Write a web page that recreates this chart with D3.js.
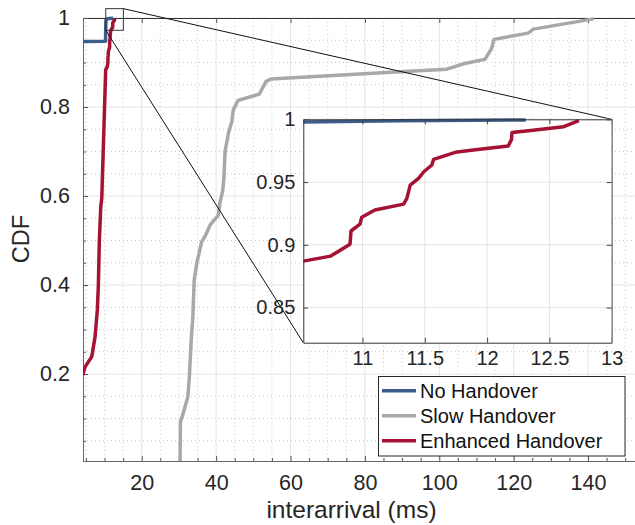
<!DOCTYPE html>
<html>
<head>
<meta charset="utf-8">
<script src="https://cdn.jsdelivr.net/npm/d3@7"></script>
<style>
  body { margin: 0; background: #fff; }
  svg { display: block; font-family: "Liberation Sans", Arial, sans-serif; }
  .tick text { fill: #262626; }
</style>
</head>
<body>
<div id="chart"></div>
<script>
// series: [interarrival ms, CDF]
const noHandover = [[4.1,0.947],[10.25,0.948],[10.33,0.985],[10.4,0.9965],[10.525,0.9979],[11.3,0.9989],[12.31,0.9995]];
const slowHandover = [[30.3,0.002],[30.4,0.093],[31.0,0.108],[32.4,0.149],[32.8,0.194],[33.4,0.291],[33.7,0.321],[33.9,0.366],
  [34.1,0.411],[34.8,0.449],[36.1,0.497],[37.0,0.509],[38.4,0.535],[40.6,0.557],[41.0,0.584],[41.8,0.613],[42.1,0.643],
  [42.4,0.70],[43.3,0.741],[44.2,0.767],[44.6,0.793],[45.9,0.815],[51.6,0.829],[53.4,0.857],[54.7,0.863],[89.4,0.879],
  [102,0.885],[106.5,0.897],[112.3,0.907],[114.1,0.932],[114.7,0.952],[123.9,0.966],[125.3,0.975],[141.5,0.998]];
const enhancedHandover = [[4.14,0.198],[4.76,0.216],[6.56,0.239],[7.45,0.284],[8.06,0.344],[8.33,0.40],[8.6,0.501],
  [8.98,0.576],[9.25,0.595],[10.3,0.884],[10.525,0.887],[10.745,0.891],[10.90,0.9005],[10.908,0.911],[10.98,0.9165],
  [10.994,0.922],[11.10,0.9277],[11.33,0.9324],[11.356,0.937],[11.383,0.9476],[11.45,0.953],[11.49,0.958],[11.557,0.9636],
  [11.57,0.968],[11.745,0.9737],[11.89,0.9755],[12.17,0.9787],[12.196,0.984],[12.2,0.9894],[12.35,0.991],[12.615,0.9941],
  [12.737,0.999]];

const seriesNames = ["No Handover", "Slow Handover", "Enhanced Handover"];
const seriesColors = ["#3d5d8a", "#a8a8a8", "#a51234"];

const xTicks = [20, 40, 60, 80, 100, 120, 140];
const yTicks = [0.2, 0.4, 0.6, 0.8, 1];
const yTickLabels = ["0.2", "0.4", "0.6", "0.8", "1"];
const insetXTicks = [11, 11.5, 12, 12.5, 13];
const insetXTickLabels = ["11", "11.5", "12", "12.5", "13"];
const insetYTicks = [0.85, 0.9, 0.95, 1];
const insetYTickLabels = ["0.85", "0.9", "0.95", "1"];

// zoom rectangle drawn on the main axes (data units)
const zoomBox = [10.32, 15.05, 0.9724, 1.021];

const width = 635, height = 525;
const svg = d3.select("#chart").append("svg")
    .attr("width", width).attr("height", height);

const pLeft = 83, pRight = 636, pTop = 18, pBottom = 461;
const x = d3.scaleLinear().domain([4.2, 152.9]).range([pLeft, pRight]);
const y = d3.scaleLinear().domain([0.0045, 1]).range([pBottom, pTop]);

const font = 21.5;

// grid
const grid = svg.append("g");
const xMinor = d3.range(5, 153, 5).filter(v => v % 20 !== 0);
const yMinor = d3.range(1, 20).map(i => i * 0.05).filter(v => Math.abs(v * 5 - Math.round(v * 5)) > 1e-6);

grid.selectAll(".xm").data(xMinor).enter().append("line")
    .attr("x1", d => x(d)).attr("x2", d => x(d)).attr("y1", pTop).attr("y2", pBottom)
    .attr("stroke", "#c8c8c8").attr("stroke-dasharray", "1,3");
grid.selectAll(".ym").data(yMinor).enter().append("line")
    .attr("y1", d => y(d)).attr("y2", d => y(d)).attr("x1", pLeft).attr("x2", pRight)
    .attr("stroke", "#c8c8c8").attr("stroke-dasharray", "1,3");
grid.selectAll(".xg").data(xTicks).enter().append("line")
    .attr("x1", d => x(d)).attr("x2", d => x(d)).attr("y1", pTop).attr("y2", pBottom)
    .attr("stroke", "#e4e4e4");
grid.selectAll(".yg").data(yTicks).enter().append("line")
    .attr("y1", d => y(d)).attr("y2", d => y(d)).attr("x1", pLeft).attr("x2", pRight)
    .attr("stroke", "#e4e4e4");

// axes
function styleAxis(g) {
    g.select(".domain").attr("stroke", "#666");
    g.selectAll(".tick line").attr("stroke", "#555");
    g.selectAll(".tick text").attr("font-size", font).attr("font-family", "Liberation Sans, Arial, sans-serif");
}

svg.append("g").attr("transform", `translate(0,${pBottom})`)
    .call(d3.axisBottom(x).tickValues(xMinor).tickSize(-3).tickSizeOuter(0).tickFormat(""))
    .call(styleAxis);
svg.append("g").attr("transform", `translate(0,${pBottom})`)
    .call(d3.axisBottom(x).tickValues(xTicks).tickSize(-5).tickSizeOuter(0).tickPadding(14))
    .call(styleAxis);
svg.append("g").attr("transform", `translate(0,${pTop})`)
    .call(d3.axisTop(x).tickValues(xTicks).tickSize(-5).tickSizeOuter(0).tickFormat(""))
    .call(styleAxis)
    .select(".domain").attr("stroke", "#333");
svg.append("g").attr("transform", `translate(${pLeft},0)`)
    .call(d3.axisLeft(y).tickValues(yMinor).tickSize(-3).tickSizeOuter(0).tickFormat(""))
    .call(styleAxis);
svg.append("g").attr("transform", `translate(${pLeft},0)`)
    .call(d3.axisLeft(y).tickValues(yTicks).tickSize(-5).tickSizeOuter(0).tickPadding(13)
        .tickFormat((d, i) => yTickLabels[i]))
    .call(styleAxis);

svg.append("text")
    .attr("x", (pLeft + pRight) / 2 - 8).attr("y", 518)
    .attr("text-anchor", "middle").attr("font-size", 24.5).attr("fill", "#262626")
    .text("interarrival (ms)");
svg.append("text")
    .attr("transform", "translate(28.5,239) rotate(-90)")
    .attr("text-anchor", "middle").attr("font-size", 23.5).attr("fill", "#262626")
    .text("CDF");

// curves
svg.append("clipPath").attr("id", "clipMain").append("rect")
    .attr("x", pLeft).attr("y", pTop - 4).attr("width", pRight - pLeft).attr("height", pBottom - pTop + 4);

const line = d3.line().x(d => x(d[0])).y(d => y(d[1]));
const allSeries = [noHandover, slowHandover, enhancedHandover];

svg.append("g").attr("clip-path", "url(#clipMain)")
    .selectAll("path").data(allSeries).enter().append("path")
    .attr("d", line)
    .attr("fill", "none")
    .attr("stroke", (d, i) => seriesColors[i])
    .attr("stroke-width", 3.5)
    .attr("stroke-linejoin", "round");

// inset
const iLeft = 303.3, iRight = 611.7, iTop = 119.3, iBottom = 342.7;
const xi = d3.scaleLinear().domain([10.525, 13]).range([iLeft, iRight]);
const yi = d3.scaleLinear().domain([0.822, 1]).range([iBottom, iTop]);

// zoom box + connectors
svg.append("rect")
    .attr("x", x(zoomBox[0])).attr("y", y(zoomBox[3]))
    .attr("width", x(zoomBox[1]) - x(zoomBox[0])).attr("height", y(zoomBox[2]) - y(zoomBox[3]))
    .attr("fill", "none").attr("stroke", "#333");
svg.append("line")
    .attr("x1", x(zoomBox[1])).attr("y1", y(zoomBox[3]))
    .attr("x2", iRight).attr("y2", iTop)
    .attr("stroke", "#111");
svg.append("line")
    .attr("x1", x(zoomBox[0])).attr("y1", y(zoomBox[2]))
    .attr("x2", iLeft).attr("y2", iBottom)
    .attr("stroke", "#111");

const inset = svg.append("g");
inset.append("rect")
    .attr("x", iLeft).attr("y", iTop).attr("width", iRight - iLeft).attr("height", iBottom - iTop)
    .attr("fill", "#fff");
inset.selectAll(".ixg").data(insetXTicks).enter().append("line")
    .attr("x1", d => xi(d)).attr("x2", d => xi(d)).attr("y1", iTop).attr("y2", iBottom)
    .attr("stroke", "#e4e4e4");
inset.selectAll(".iyg").data(insetYTicks).enter().append("line")
    .attr("y1", d => yi(d)).attr("y2", d => yi(d)).attr("x1", iLeft).attr("x2", iRight)
    .attr("stroke", "#e4e4e4");

svg.append("clipPath").attr("id", "clipInset").append("rect")
    .attr("x", iLeft).attr("y", iTop - 3).attr("width", iRight - iLeft).attr("height", iBottom - iTop + 3);

const lineI = d3.line().x(d => xi(d[0])).y(d => yi(d[1]));
inset.append("g").attr("clip-path", "url(#clipInset)")
    .selectAll("path").data(allSeries).enter().append("path")
    .attr("d", lineI)
    .attr("fill", "none")
    .attr("stroke", (d, i) => seriesColors[i])
    .attr("stroke-width", 3.5)
    .attr("stroke-linejoin", "round");

function styleInset(g) {
    g.select(".domain").attr("stroke", "#333");
    g.selectAll(".tick line").attr("stroke", "#444");
    g.selectAll(".tick text").attr("font-size", 20).attr("font-family", "Liberation Sans, Arial, sans-serif");
}
inset.append("g").attr("transform", `translate(0,${iBottom})`)
    .call(d3.axisBottom(xi).tickValues(insetXTicks).tickSize(-5).tickSizeOuter(0).tickPadding(8)
        .tickFormat((d, i) => insetXTickLabels[i]))
    .call(styleInset);
inset.append("g").attr("transform", `translate(0,${iTop})`)
    .call(d3.axisTop(xi).tickValues(insetXTicks).tickSize(-5).tickSizeOuter(0).tickFormat(""))
    .call(styleInset);
inset.append("g").attr("transform", `translate(${iLeft},0)`)
    .call(d3.axisLeft(yi).tickValues(insetYTicks).tickSize(-5).tickSizeOuter(0).tickPadding(8)
        .tickFormat((d, i) => insetYTickLabels[i]))
    .call(styleInset);
inset.append("g").attr("transform", `translate(${iRight},0)`)
    .call(d3.axisRight(yi).tickValues(insetYTicks).tickSize(-5).tickSizeOuter(0).tickFormat(""))
    .call(styleInset)
    .select(".domain").attr("stroke", "#888").attr("stroke-width", 1.5);

// legend
const lg = svg.append("g").attr("transform", "translate(378.5,376.5)");
lg.append("rect").attr("width", 246.5).attr("height", 79.5)
    .attr("fill", "#fff").attr("stroke", "#262626");
const items = lg.selectAll(".item").data(seriesNames).enter().append("g")
    .attr("transform", (d, i) => `translate(0,${14.2 + i * 25})`);
items.append("line")
    .attr("x1", 3.5).attr("x2", 37.5)
    .attr("stroke", (d, i) => seriesColors[i]).attr("stroke-width", 3.5);
items.append("text")
    .attr("x", 41.5).attr("dy", "0.35em")
    .attr("font-size", 20).attr("fill", "#111")
    .text(d => d);
</script>
</body>
</html>
